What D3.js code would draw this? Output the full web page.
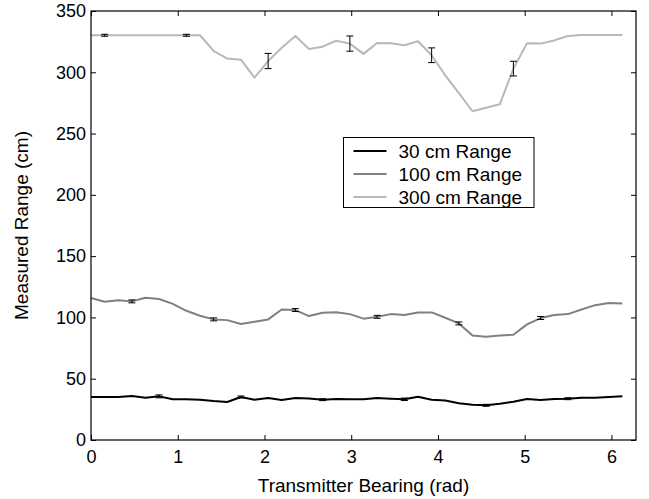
<!DOCTYPE html>
<html>
<head>
<meta charset="UTF-8" />
<script src="https://cdn.jsdelivr.net/npm/d3@7/dist/d3.min.js"></script>
<style>
  body { margin: 0; background: #fff; }
  text { font-family: Arial, "Liberation Sans", Helvetica, sans-serif; }
</style>
</head>
<body>
<div id="chart"></div>
<script>
// bearings: 40 samples round the circle
const step = 2 * Math.PI / 40;
const bearings = d3.range(40).map(i => i * step);

const range30 = [35.1, 35.1, 35.1, 35.9, 34.5, 35.6, 33.2, 33.2, 32.9, 31.8,
                 31.0, 35.1, 32.9, 34.2, 32.6, 34.2, 33.9, 32.9, 33.4, 33.2,
                 33.2, 34.2, 33.7, 33.2, 35.3, 32.9, 32.3, 29.9, 28.8, 28.3,
                 29.6, 31.2, 33.4, 32.6, 33.4, 33.7, 34.5, 34.5, 35.1, 35.6];
const range100 = [115.8, 112.8, 114.1, 113.1, 116.0, 115.0, 111.1, 105.4, 101.4, 98.4,
                  97.8, 94.6, 96.5, 98.4, 106.5, 106.0, 101.1, 103.8, 104.3, 102.7,
                  99.0, 100.5, 102.7, 101.9, 104.1, 104.1, 99.7, 95.1, 85.3, 84.2,
                  85.3, 85.9, 94.3, 99.5, 101.9, 102.7, 106.5, 110.0, 111.7, 111.4];
const range300 = [330.2, 330.2, 330.2, 330.2, 330.2, 330.2, 330.2, 330.2, 330.2, 317.4,
                  311.2, 310.3, 295.6, 309.2, 320.0, 329.6, 319.0, 320.9, 325.8, 323.4,
                  315.0, 323.9, 323.6, 322.0, 325.3, 313.9, 297.5, 283.0, 268.2, 271.0,
                  273.9, 303.0, 323.6, 323.4, 326.0, 329.6, 330.4, 330.4, 330.4, 330.4];

// error bars: sample index and half-width (cm)
const err30 = [[5, 1.2], [11, 0.8], [17, 0.8], [23, 1.0], [29, 0.8], [35, 0.8]];
const err100 = [[3, 1.2], [9, 1.2], [15, 1.2], [21, 1.2], [27, 1.2], [33, 1.2]];
const err300 = [[1, 0.8], [7, 0.8], [13, 6.2], [19, 6.2], [25, 6.0], [31, 6.0]];

const seriesNames = ["30 cm Range", "100 cm Range", "300 cm Range"];
const seriesColors = ["#000000", "#808080", "#b8b8b8"];

const xTicks = [0, 1, 2, 3, 4, 5, 6];
const yTicks = [0, 50, 100, 150, 200, 250, 300, 350];

const W = 649, H = 499;
const m = {top: 11, right: 13, bottom: 59, left: 91};

const svg = d3.select("#chart").append("svg")
    .attr("width", W).attr("height", H);

const x = d3.scaleLinear().domain([0, 2 * Math.PI]).range([m.left, W - m.right]);
const y = d3.scaleLinear().domain([0, 350]).range([H - m.bottom, m.top]);

const series = [
  {name: seriesNames[0], color: seriesColors[0], vals: range30, err: err30},
  {name: seriesNames[1], color: seriesColors[1], vals: range100, err: err100},
  {name: seriesNames[2], color: seriesColors[2], vals: range300, err: err300}
];

const line = d3.line().x((d, i) => x(bearings[i])).y(d => y(d));

// draw lightest first so the dark lines sit on top
series.slice().reverse().forEach(s => {
  svg.append("path")
      .datum(s.vals)
      .attr("fill", "none")
      .attr("stroke", s.color)
      .attr("stroke-width", 2)
      .attr("stroke-linejoin", "round")
      .attr("d", line);
});

series.forEach(s => {
  const g = svg.append("g").attr("stroke", "#000").attr("stroke-width", 1).attr("fill", "none");
  s.err.forEach(([i, e]) => {
    const cx = x(bearings[i]), v = s.vals[i];
    g.append("line").attr("x1", cx).attr("x2", cx).attr("y1", y(v - e)).attr("y2", y(v + e));
    g.append("line").attr("x1", cx - 3.5).attr("x2", cx + 3.5).attr("y1", y(v - e)).attr("y2", y(v - e));
    g.append("line").attr("x1", cx - 3.5).attr("x2", cx + 3.5).attr("y1", y(v + e)).attr("y2", y(v + e));
  });
});

// axes box with inward ticks on every side
const tickLen = 5;
const tickFs = 18;
const fs = 19;
const styleText = g => g.selectAll("text").attr("font-size", tickFs).attr("fill", "#000")
    .attr("font-family", "Arial, 'Liberation Sans', sans-serif");
svg.append("g")
    .attr("transform", `translate(0,${H - m.bottom})`)
    .call(d3.axisBottom(x).tickValues(xTicks).tickSizeInner(-tickLen).tickSizeOuter(0)
        .tickPadding(10).tickFormat(d3.format("d")))
    .call(g => g.select(".domain").remove())
    .call(styleText);
svg.append("g")
    .attr("transform", `translate(0,${m.top})`)
    .call(d3.axisTop(x).tickValues(xTicks).tickSizeInner(-tickLen).tickSizeOuter(0).tickFormat(""))
    .call(g => g.select(".domain").remove());
svg.append("g")
    .attr("transform", `translate(${m.left},0)`)
    .call(d3.axisLeft(y).tickValues(yTicks).tickSizeInner(-tickLen).tickSizeOuter(0)
        .tickPadding(5).tickFormat(d3.format("d")))
    .call(g => g.select(".domain").remove())
    .call(styleText);
svg.append("g")
    .attr("transform", `translate(${W - m.right},0)`)
    .call(d3.axisRight(y).tickValues(yTicks).tickSizeInner(-tickLen).tickSizeOuter(0).tickFormat(""))
    .call(g => g.select(".domain").remove());

svg.append("rect")
    .attr("x", m.left).attr("y", m.top)
    .attr("width", W - m.left - m.right).attr("height", H - m.top - m.bottom)
    .attr("fill", "none").attr("stroke", "#000").attr("stroke-width", 1.2);

svg.append("text")
    .attr("x", (m.left + W - m.right) / 2).attr("y", 492)
    .attr("text-anchor", "middle").attr("font-size", fs)
    .text("Transmitter Bearing (rad)");
svg.append("text")
    .attr("transform", `translate(28,${(m.top + H - m.bottom) / 2}) rotate(-90)`)
    .attr("text-anchor", "middle").attr("font-size", fs)
    .text("Measured Range (cm)");

// legend
const leg = svg.append("g").attr("transform", "translate(343.5,137.5)");
leg.append("rect").attr("width", 190.5).attr("height", 70)
    .attr("fill", "#fff").attr("stroke", "#000").attr("stroke-width", 1);
series.forEach((s, i) => {
  const ly = 13.5 + i * 23;
  leg.append("line").attr("x1", 10).attr("x2", 43).attr("y1", ly).attr("y2", ly)
      .attr("stroke", s.color).attr("stroke-width", 2);
  leg.append("text").attr("x", 55).attr("y", ly).attr("dy", "0.35em")
      .attr("font-size", fs).text(s.name);
});
</script>
</body>
</html>
